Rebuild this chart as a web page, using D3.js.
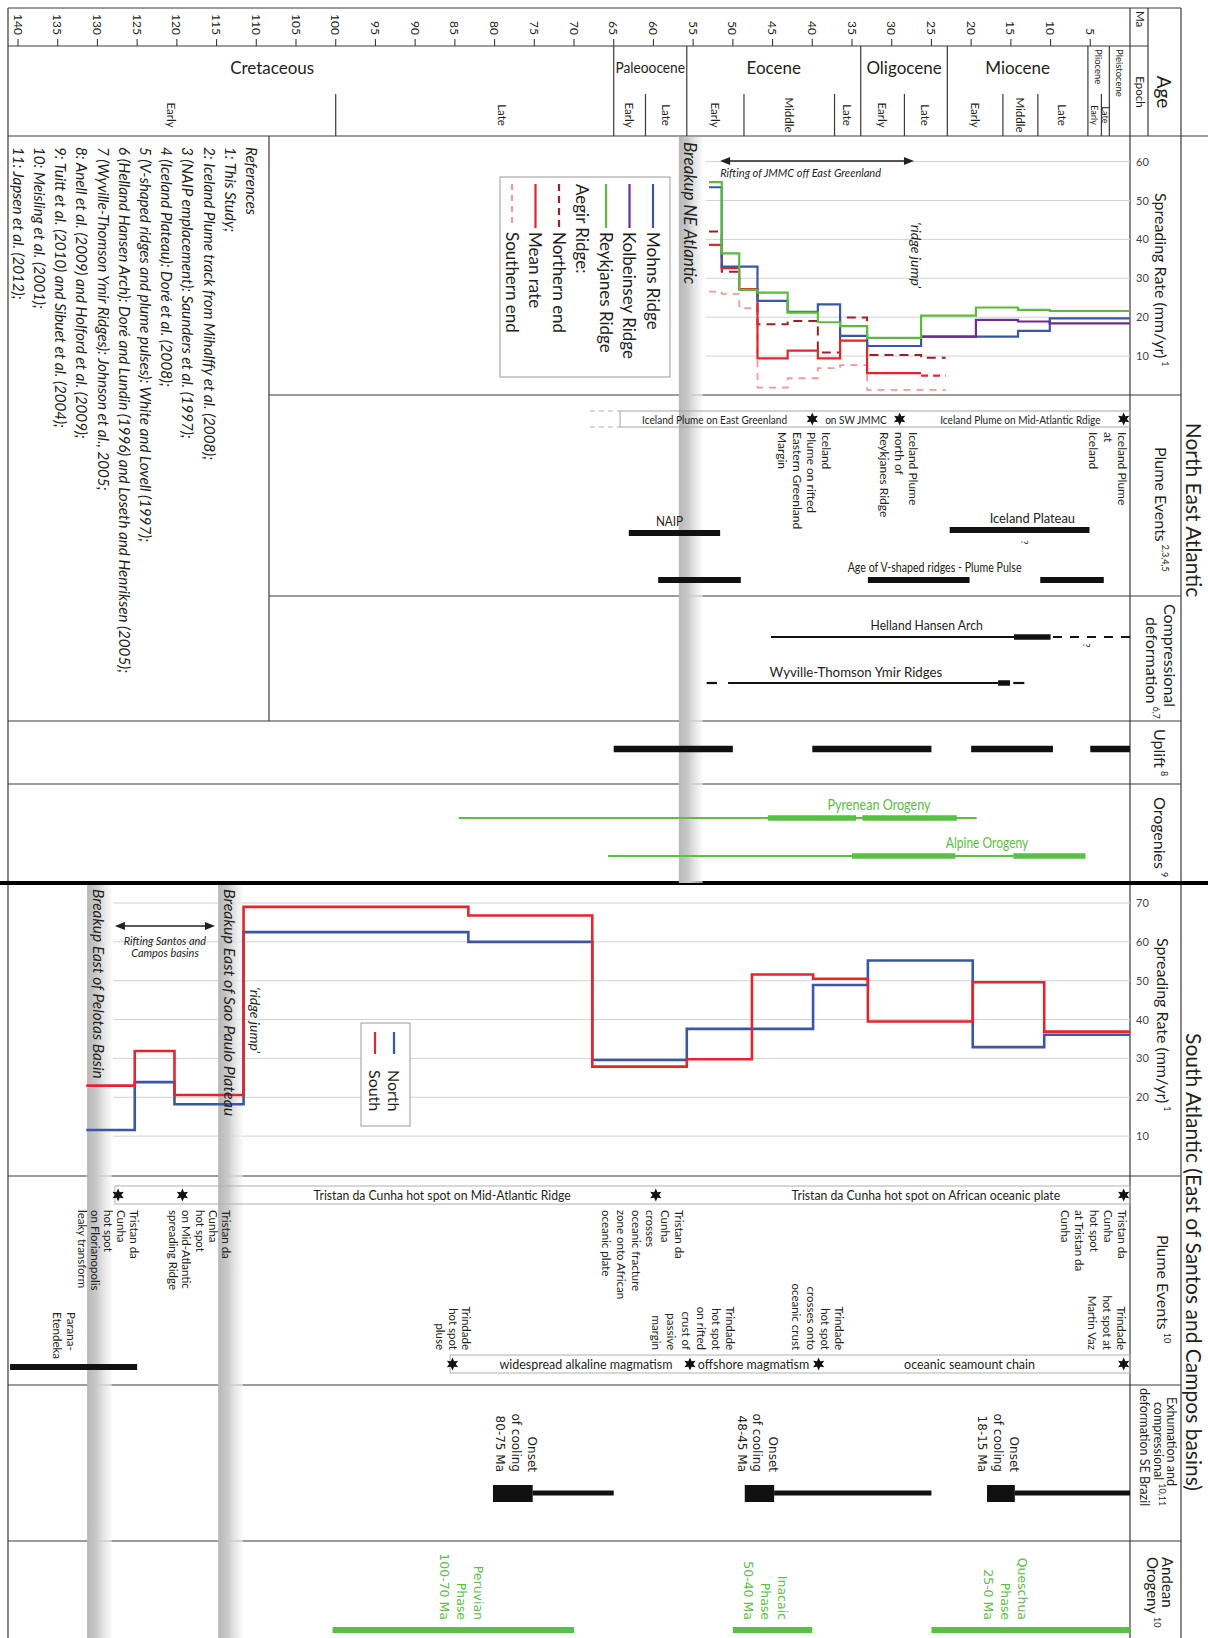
<!DOCTYPE html>
<html>
<head>
<meta charset="utf-8">
<title>Spreading rates and plume events, NE and South Atlantic</title>
<script src="https://cdn.jsdelivr.net/npm/d3@7"></script>
<style>
  body { margin: 0; background: #fff; }
  svg { display: block; }
  text { font-family: Lato, "Noto Sans", sans-serif; fill: #231f20; }
  .dv { font-family: "DejaVu Sans", sans-serif; }
</style>
</head>
<body>
<svg id="chart" width="1208" height="1638"></svg>
<script>
// ---------- data (ages in Ma) ----------
var maTicks = d3.range(5, 141, 5);
var epochNames = ["Cretaceous", "Paleoocene", "Eocene", "Oligocene", "Miocene", "Pliocene", "Pleistocene"];
var epochBounds = [145, 65, 55.8, 33.9, 23, 5.3, 2.6, 0];
var subEpochs = [["Early", 145, 100], ["Late", 100, 65], ["Early", 65, 61], ["Late", 61, 55.8],
  ["Early", 55.8, 48.6], ["Middle", 48.6, 37.2], ["Late", 37.2, 33.9], ["Early", 33.9, 28.4],
  ["Late", 28.4, 23], ["Early", 23, 16], ["Middle", 16, 11.6], ["Late", 11.6, 5.3],
  ["Early", 5.3, 3.6], ["Late", 3.6, 2.6]];

// NE Atlantic spreading rate (mm/yr), one value per interval between breaks
var neBreaks   = [53, 51.4, 49.2, 46.9, 43.1, 39.3, 36.5, 33.1, 26.3, 23.2, 19.4, 14.1, 10.1, 0];
var mohns      = [53.4, 33, 33, 24.2, 21.4, 23.3, 15.2, 12.6, 15, 15, 15, 16.5, 19.7];
var kolbeinsey = [null, null, null, null, null, null, null, null, 15, 15, 19.3, 18.9, 18.4];
var reykjanes  = [54.7, 36.4, 27, 26.3, 21.2, 18.7, 17.7, 14.7, 20.4, 20.4, 22.5, 21.9, 21.6];
var aegirMean  = [38.6, 32.6, 27.2, 9.4, 11.4, 9.4, 14, 5.6, 5];
var aegirNorth = [42, 31.7, 27.2, 18.2, 19, 10.9, 19.9, 10.3, 9.6];
var aegirSouth = [26.6, 26, 22.3, 1.9, 4.3, 6.9, 7.7, 1.3, 1.3];

// South Atlantic spreading rate (mm/yr)
var saBreaks = [131.4, 125.3, 120.3, 111.6, 83.3, 67.7, 55.8, 47.6, 39.9, 33, 19.8, 10.8, 0];
var saNorth  = [11.6, 23.9, 18.2, 62.5, 60, 29.6, 37.6, 37.6, 48.9, 55.2, 32.9, 36.1];
var saSouth  = [23, 31.9, 20.6, 69, 66.8, 27.9, 29.8, 51.6, 50.5, 39.5, 49.6, 36.9];

// NE Atlantic events
var neBreakup = [56.8, 53.8];
var nePlumeSpan = [64.2, 0];
var nePlumeUncertain = [68, 64.2];
var nePlumeStars = [40, 29, 0.8];
var nePlumePhases = ["Iceland Plume on East Greenland", "on SW JMMC", "Iceland Plume on Mid-Atlantic Rdige"];
var nePlumeNotes = [["Iceland", "Plume on rifted", "Eastern Greenland", "Margin"],
  ["Iceland Plume", "north of", "Reykjanes Ridge"], ["Iceland Plume", "at", "Iceland"]];
var naip = [63.1, 51.6];
var icelandPlateau = [22.7, 5.1];
var vShapedRidges = [[59.4, 49], [33, 20.2], [11.3, 3.3]];
var hellandHansen = {thin: [45.2, 14.6], thick: [14.6, 10], dashed: [9.7, 0]};
var wyvilleThomson = {dashed: [53.3, 52], thin: [50.6, 16.6], thick: [16.6, 15.1], dashed2: [14.7, 13.3]};
var uplift = [[65, 50], [40, 25], [20, 9.7], [5, 0]];
var pyrenean = {thin: [84.5, 19.3], thick: [[45.6, 34.5], [33.7, 21.8]]};
var alpine = {thin: [65.7, 14.7], thick: [[35, 22], [14.7, 5.6]]};
var rifting = [51.6, 27.2];

// South Atlantic events
var pelotasBand = [131.3, 128.2];
var saoPauloBand = [114.8, 111.7];
var santosRifting = [127.8, 115.2];
var tristanSpan = [127.8, 0];
var tristanStars = [127.4, 119.3, 59.7, 0.8];
var tristanPhases = ["Tristan da Cunha hot spot on Mid-Atlantic Ridge", "Tristan da Cunha hot spot on African oceanic plate"];
var tristanNotes = [["Tristan da", "Cunha", "hot spot", "on Florianopolis", "leaky transform"],
  ["Tristan da", "Cunha", "hot spot", "on Mid-Atlantic", "spreading Ridge"],
  ["Tristan da", "Cunha", "crosses", "oceanic fracture", "zone onto African", "oceanic plate"],
  ["Tristan da", "Cunha", "hot spot", "at Tristan da", "Cunha"]];
var trindadeSpan = [85.6, 0];
var trindadeStars = [85.3, 55.4, 39.2, 0.8];
var trindadePhases = ["widespread alkaline magmatism", "offshore magmatism", "oceanic seamount chain"];
var trindadeNotes = [["Trindade", "hot spot", "pluse"],
  ["Trindade", "hot spot", "on rifted", "crust of", "passive", "margin"],
  ["Trindade", "hot spot", "crosses onto", "oceanic crust"],
  ["Trindade", "hot spot at", "Martin Vaz"]];
var paranaEtendeka = [141, 125];
var coolingOnset = [[80.2, 75.2], [48.5, 44.8], [18, 14.5]];
var coolingEnd = [65, 25, 0];
var coolingNotes = [["Onset", "of cooling", "80-75 Ma"], ["Onset", "of cooling", "48-45 Ma"], ["Onset", "of cooling", "18-15 Ma"]];
var andeanPhases = [[100.4, 70], [50, 40], [25, 0]];
var andeanNotes = [["Peruvian", "Phase", "100-70 Ma"], ["Inacaic", "Phase", "50-40 Ma"], ["Queschua", "Phase", "25-0 Ma"]];

var references = ["References", "1: This Study;",
  "2: Iceland Plume track from Mihalffy et al. (2008);",
  "3 (NAIP emplacement): Saunders et al. (1997);",
  "4 (Iceland Plateau): Doré et al. (2008);",
  "5 (V-shaped ridges and plume pulses): White and Lovell (1997);",
  "6 (Helland Hansen Arch): Doré and Lundin (1996) and Loseth and Henriksen (2005);",
  "7 (Wyville-Thomson Ymir Ridges): Johnson et al., 2005;",
  "8: Anell et al. (2009) and Holford et al. (2009);",
  "9: Tuitt et al. (2010) and Sibuet et al. (2004);",
  "10: Meisling et al. (2001);",
  "11: Japsen et al. (2012);"];

// ---------- setup ----------
var W = 1208, H = 1638;
var XL = 8, XR = 1130, XC = 1181, XREF = 269;
var GREEN = "#58c042", BLUE = "#3a56a6", RED = "#e4262c", PURPLE = "#6b2d8f", RGREEN = "#5cbb3c",
    DRED = "#9e1f2a", PINK = "#f09a9a";

var svg = d3.select("#chart");
var x = d3.scaleLinear().domain([140, 0]).range([18, XR]);
var yNE = d3.scaleLinear().domain([0, 60]).range([395, 161.6]);
var ySA = d3.scaleLinear().domain([0, 70]).range([1175, 903]);
function cx(ma) { return Math.max(XL, Math.min(XR, x(ma))); }

var defs = svg.append("defs");
var grad = defs.append("linearGradient").attr("id", "band");
grad.append("stop").attr("offset", "0%").attr("stop-color", "#b7b7b7");
grad.append("stop").attr("offset", "40%").attr("stop-color", "#cbcbcb");
grad.append("stop").attr("offset", "100%").attr("stop-color", "#f7f7f7").attr("stop-opacity", 0.6);

var gFrame = svg.append("g"), gGrid = svg.append("g"), gBand = svg.append("g"), g = svg.append("g");

function hline(p, y, x1, x2, w, col, dash) {
  return p.append("line").attr("x1", x1).attr("x2", x2).attr("y1", y).attr("y2", y)
    .attr("stroke", col || "#3a3a3a").attr("stroke-width", w || 1.2).attr("stroke-dasharray", dash || null);
}
function vline(p, xx, y1, y2, w, col) {
  return p.append("line").attr("x1", xx).attr("x2", xx).attr("y1", y1).attr("y2", y2)
    .attr("stroke", col || "#3a3a3a").attr("stroke-width", w || 1.2);
}
function bar(p, span, y, thick, col) {
  return p.append("line").attr("x1", cx(span[0])).attr("x2", cx(span[1])).attr("y1", y).attr("y2", y)
    .attr("stroke", col || "#111").attr("stroke-width", thick);
}
// rotated text reading top to bottom, centred on column xx
function vtext(p, xx, y, s, o) {
  o = o || {};
  var t = p.append("text").attr("transform", "translate(" + xx + "," + y + ") rotate(90)")
    .attr("dominant-baseline", "central").attr("text-anchor", o.anchor || "start")
    .style("font-size", (o.size || 12) + "px").text(s);
  if (o.cls) t.attr("class", o.cls);
  if (o.fill) t.style("fill", o.fill);
  if (o.italic) t.style("font-style", "italic");
  if (o.sup) t.append("tspan").attr("dy", "-0.55em").attr("dx", "3").style("font-size", "9px").text(o.sup);
  return t;
}
// horizontal text; sx < 1 squeezes it like a condensed face
function htext(p, xx, y, s, o) {
  o = o || {};
  var t = p.append("text").attr("transform", "translate(" + xx + "," + y + ") scale(" + (o.sx || 1) + ",1)")
    .attr("text-anchor", o.anchor || "middle")
    .style("font-size", (o.size || 12) + "px").text(s);
  if (o.cls) t.attr("class", o.cls);
  if (o.fill) t.style("fill", o.fill);
  if (o.italic) t.style("font-style", "italic");
  return t;
}
function noteLines(p, x0, y0, lines, step, o) {
  lines.forEach(function(s, i) { vtext(p, x0 - i * step, y0, s, o); });
}
function starPath(sx, sy, r) {
  var pts = d3.range(12).map(function(i) {
    var a = Math.PI / 6 * i - Math.PI / 2, rr = i % 2 ? r * 0.5 : r;
    return [sx + rr * Math.cos(a), sy + rr * Math.sin(a)];
  });
  return "M" + pts.join("L") + "Z";
}
function stars(p, list, y) {
  list.forEach(function(m) { p.append("path").attr("d", starPath(x(m), y, 6.5)).attr("fill", "#111"); });
}
function stepPath(breaks, vals, yScale, from, to) {
  var d = "", prev = null;
  for (var i = from; i < to; i++) {
    var v = vals[i];
    if (v == null) { prev = null; continue; }
    d += (prev == null ? "M" + x(breaks[i]) : "L" + x(breaks[i])) + "," + yScale(v);
    d += "L" + x(breaks[i + 1]) + "," + yScale(v);
    prev = v;
  }
  return d;
}
function series(p, breaks, vals, yScale, col, w, dash, from, to) {
  p.append("path").attr("d", stepPath(breaks, vals, yScale, from || 0, to || vals.length))
    .attr("fill", "none").attr("stroke", col).attr("stroke-width", w)
    .attr("stroke-dasharray", dash || null).attr("stroke-linejoin", "miter");
}
function arrow(p, x1, x2, y) {
  hline(p, y, x1 + 4, x2 - 4, 1.3, "#222");
  p.append("path").attr("d", "M" + x1 + "," + y + "l10,-4l0,8z").attr("fill", "#222");
  p.append("path").attr("d", "M" + x2 + "," + y + "l-10,-4l0,8z").attr("fill", "#222");
}

// ---------- frame ----------
hline(gFrame, 8, XL, XC);
vline(gFrame, XL, 8, H);
vline(gFrame, XC, 8, H);
vline(gFrame, XR, 8, H);
vline(gFrame, 1148, 8, 136);
hline(gFrame, 46, XL, 1148);
hline(gFrame, 136, XL, W);
vline(gFrame, XREF, 136, 721);
[395, 596].forEach(function(y) { hline(gFrame, y, XREF, XC); });
[721, 784, 1176, 1385, 1541].forEach(function(y) { hline(gFrame, y, XL, XC); });
hline(gFrame, 883, 0, W, 4, "#000");

// Ma ticks
maTicks.forEach(function(m) {
  vline(gFrame, x(m), 39, 46, 1.1);
  vtext(g, x(m), 35, m, {anchor: "end", size: 12});
});
vtext(g, 1140, 19, "Ma", {anchor: "middle", size: 11.5});
vtext(g, 1140, 92, "Epoch", {anchor: "middle", size: 11.5});
vtext(g, 1164, 92, "Age", {anchor: "middle", size: 19});

// epochs (two labels sit off-centre in the original)
var labelAt = {"Cretaceous": 108, "Late100": 79};
epochBounds.slice(1, 7).forEach(function(b) { vline(gFrame, x(b), 46, 136); });
subEpochs.forEach(function(s) {
  if (epochBounds.indexOf(s[1]) < 0) vline(gFrame, x(s[1]), 94, 136);
  var key = s[0] + s[1];
  var mid = labelAt[key] != null ? x(labelAt[key]) : (cx(s[1]) + cx(s[2])) / 2;
  vtext(g, mid, 115, s[0], {anchor: "middle", size: s[1] <= 5.3 ? 9 : 11.5});
});
epochNames.forEach(function(n, i) {
  var mid = labelAt[n] != null ? x(labelAt[n]) : (cx(epochBounds[i]) + cx(epochBounds[i + 1])) / 2;
  if (i === 1) htext(g, mid, 73, n, {size: 16, sx: 0.86});
  else if (i < 5) htext(g, mid, 74, n, {size: 17});
  else vtext(g, mid, 49, n, {size: 9.5});
});

// ---------- NE Atlantic: spreading rate ----------
yNE.ticks(6).filter(function(t) { return t > 0; }).forEach(function(t) {
  hline(gGrid, yNE(t), x(53.4), XR, 1, "#d2d2d2");
});
gGrid.append("g").attr("transform", "translate(" + XR + ",0)")
  .call(d3.axisRight(yNE).tickValues([10, 20, 30, 40, 50, 60]).tickSize(0).tickPadding(6))
  .call(function(a) { a.select(".domain").remove(); a.selectAll("text").style("font-size", "11px").style("fill", "#444").style("font-family", "Lato, sans-serif"); });

gBand.append("rect").attr("x", x(neBreakup[0])).attr("y", 137).attr("width", x(neBreakup[1]) - x(neBreakup[0]))
  .attr("height", 883 - 137).attr("fill", "url(#band)");

series(g, neBreaks, aegirSouth, yNE, PINK, 1.8, "7,6");
series(g, neBreaks, aegirNorth, yNE, DRED, 2, "9,6");
series(g, neBreaks, aegirMean, yNE, RED, 2.2, null, 0, 8);
series(g, neBreaks, aegirMean, yNE, RED, 2.2, "7,5", 8, 9);
series(g, neBreaks, mohns, yNE, BLUE, 2.2);
series(g, neBreaks, kolbeinsey, yNE, PURPLE, 2.2);
series(g, neBreaks, reykjanes, yNE, RGREEN, 2.2);

arrow(g, x(rifting[0]), x(rifting[1]), 161);
htext(g, x(rifting[0]), 177, "Rifting of JMMC off East Greenland", {anchor: "start", size: 12, italic: true, sx: 0.92});
vtext(g, 916, 222, "\u2018ridge jump\u2019", {size: 14, italic: true});
vtext(g, x((neBreakup[0] + neBreakup[1]) / 2), 142, "Breakup  NE Atlantic", {size: 17, italic: true});

// legend
var legNE = [
  {label: "Mohns Ridge", col: BLUE}, {label: "Kolbeinsey Ridge", col: PURPLE},
  {label: "Reykjanes Ridge", col: RGREEN}, {label: "Aegir Ridge:", col: null},
  {label: "Northern end", col: DRED, dash: "7,5"}, {label: "Mean rate", col: RED},
  {label: "Southern end", col: PINK, dash: "6,5"}];
g.append("rect").attr("x", 500).attr("y", 177).attr("width", 170).attr("height", 200)
  .attr("fill", "#fff").attr("stroke", "#9a9a9a").attr("stroke-width", 1);
legNE.forEach(function(e, i) {
  var lx = 653 - i * 23.5;
  if (e.col) {
    vline(g, lx, 184, 228, 2.2, e.col).attr("stroke-dasharray", e.dash || null);
    vtext(g, lx, 232, e.label, {size: 17});
  } else vtext(g, lx, 184, e.label, {size: 17});
});

// references
references.forEach(function(r, i) { vtext(g, 252 - i * 21.2, 147, r, {size: 15.2, italic: true}); });

// ---------- NE plume events ----------
var pb = g.append("g");
pb.append("rect").attr("x", x(nePlumeSpan[0])).attr("y", 411).attr("width", x(nePlumeSpan[1]) - x(nePlumeSpan[0]))
  .attr("height", 16).attr("fill", "none").attr("stroke", "#a5a5a5").attr("stroke-width", 1);
hline(pb, 411, x(nePlumeUncertain[0]), x(nePlumeUncertain[1]), 1, "#b0b0b0", "5,4");
hline(pb, 427, x(nePlumeUncertain[0]), x(nePlumeUncertain[1]), 1, "#b0b0b0", "5,4");
stars(pb, nePlumeStars, 419);
[52.3, 34.5, 13.8].forEach(function(m, i) { htext(pb, x(m), 423.5, nePlumePhases[i], {size: 12, sx: 0.84}); });
noteLines(g, x(nePlumeStars[0]) + 14, 432, nePlumeNotes[0], 14.5, {size: 12});
noteLines(g, x(nePlumeStars[1]) + 14, 432, nePlumeNotes[1], 14.5, {size: 12});
noteLines(g, x(nePlumeStars[2]) - 1, 432, nePlumeNotes[2], 14.5, {size: 12});

bar(g, naip, 533, 6);
htext(g, (x(naip[0]) + x(naip[1])) / 2 - 5, 526, "NAIP", {size: 13, sx: 0.9});
bar(g, icelandPlateau, 530, 6);
htext(g, x(12.3), 523, "Iceland Plateau", {size: 14, sx: 0.92});
vtext(g, 1025, 540, "?", {size: 10});
vShapedRidges.forEach(function(s) { bar(g, s, 580, 6); });
htext(g, x(24.6), 572, "Age of V-shaped ridges - Plume Pulse", {size: 14, sx: 0.76});

// compressional deformation
bar(g, hellandHansen.thin, 637, 2.2);
bar(g, hellandHansen.thick, 637, 5.5);
bar(g, hellandHansen.dashed, 637, 2.2).attr("stroke-dasharray", "9,8");
htext(g, x(25.6), 630, "Helland Hansen Arch", {size: 14, sx: 0.87});
vtext(g, 1087, 643, "?", {size: 10});
bar(g, wyvilleThomson.dashed, 683, 2.2);
bar(g, wyvilleThomson.thin, 683, 2.2);
bar(g, wyvilleThomson.thick, 683, 5.5);
bar(g, wyvilleThomson.dashed2, 683, 2.2);
htext(g, x(34.5), 677, "Wyville-Thomson Ymir Ridges", {size: 14, sx: 0.95});

// uplift
uplift.forEach(function(s) { bar(g, s, 749, 6.5); });

// orogenies
bar(g, pyrenean.thin, 818, 1.8, GREEN);
pyrenean.thick.forEach(function(s) { bar(g, s, 818, 5.5, GREEN); });
htext(g, x(31.6), 810, "Pyrenean  Orogeny", {size: 14.5, fill: GREEN, sx: 0.87});
bar(g, alpine.thin, 856, 1.8, GREEN);
alpine.thick.forEach(function(s) { bar(g, s, 856, 5.5, GREEN); });
htext(g, x(18), 848, "Alpine Orogeny", {size: 14.5, fill: GREEN, sx: 0.83});

// ---------- South Atlantic: spreading rate ----------
ySA.ticks(7).filter(function(t) { return t > 0; }).forEach(function(t) {
  hline(gGrid, ySA(t), x(128), XR, 1, "#d2d2d2");
});
gGrid.append("g").attr("transform", "translate(" + XR + ",0)")
  .call(d3.axisRight(ySA).tickValues([10, 20, 30, 40, 50, 60, 70]).tickSize(0).tickPadding(6))
  .call(function(a) { a.select(".domain").remove(); a.selectAll("text").style("font-size", "11px").style("fill", "#444").style("font-family", "Lato, sans-serif"); });

[pelotasBand, saoPauloBand].forEach(function(b) {
  gBand.append("rect").attr("x", x(b[0])).attr("y", 885).attr("width", x(b[1]) - x(b[0]))
    .attr("height", H - 885).attr("fill", "url(#band)");
});

series(g, saBreaks, saNorth, ySA, BLUE, 2.6);
series(g, saBreaks, saSouth, ySA, RED, 2.6);

vtext(g, x((pelotasBand[0] + pelotasBand[1]) / 2), 889, "Breakup East of Pelotas Basin", {size: 15.5, italic: true});
vtext(g, x((saoPauloBand[0] + saoPauloBand[1]) / 2), 889, "Breakup East of Sao Paulo Plateau", {size: 16, italic: true});
arrow(g, x(santosRifting[0]), x(santosRifting[1]), 926);
var rx = (x(santosRifting[0]) + x(santosRifting[1])) / 2;
htext(g, rx, 945, "Rifting Santos and", {size: 11.5, italic: true, sx: 0.95});
htext(g, rx, 957, "Campos basins", {size: 11.5, italic: true, sx: 0.95});
vtext(g, 255, 987, "\u2018ridge jump\u2019", {size: 14, italic: true});

g.append("rect").attr("x", 361).attr("y", 1023).attr("width", 49).attr("height", 103)
  .attr("fill", "#fff").attr("stroke", "#9a9a9a").attr("stroke-width", 1);
vline(g, 394, 1032, 1054, 2.2, BLUE);
vtext(g, 394, 1070, "North", {size: 16});
vline(g, 375, 1032, 1054, 2.2, RED);
vtext(g, 375, 1070, "South", {size: 16});

// ---------- South Atlantic plume events ----------
g.append("rect").attr("x", x(tristanSpan[0])).attr("y", 1186).attr("width", x(tristanSpan[1]) - x(tristanSpan[0]))
  .attr("height", 18).attr("fill", "none").attr("stroke", "#b0b0b0").attr("stroke-width", 1);
stars(g, tristanStars, 1195);
htext(g, x(86.6), 1199.5, tristanPhases[0], {size: 13, sx: 0.94});
htext(g, x(25.7), 1199.5, tristanPhases[1], {size: 13, sx: 0.94});
noteLines(g, x(tristanStars[0]) + 16, 1210, tristanNotes[0], 12.8, {size: 11.5});
noteLines(g, x(tristanStars[1]) + 44, 1210, tristanNotes[1], 13.2, {size: 11.5});
noteLines(g, x(tristanStars[2]) + 24, 1210, tristanNotes[2], 14.6, {size: 11.5});
noteLines(g, x(tristanStars[3]) - 1, 1210, tristanNotes[3], 14.3, {size: 11.5});

g.append("rect").attr("x", x(trindadeSpan[0])).attr("y", 1355).attr("width", x(trindadeSpan[1]) - x(trindadeSpan[0]))
  .attr("height", 18).attr("fill", "none").attr("stroke", "#b0b0b0").attr("stroke-width", 1);
stars(g, trindadeStars, 1364);
htext(g, x(68.5), 1368.5, trindadePhases[0], {size: 13, sx: 0.96});
htext(g, x(47.4), 1368.5, trindadePhases[1], {size: 13, sx: 0.96});
htext(g, x(20.2), 1368.5, trindadePhases[2], {size: 13, sx: 0.96});
noteLines(g, x(trindadeStars[0]) + 14, 1350, trindadeNotes[0], 13, {size: 11.5, anchor: "end"});
noteLines(g, x(trindadeStars[1]) + 41, 1350, trindadeNotes[1], 14.8, {size: 11.5, anchor: "end"});
noteLines(g, x(trindadeStars[2]) + 21, 1350, trindadeNotes[2], 14.3, {size: 11.5, anchor: "end"});
noteLines(g, x(trindadeStars[3]) - 2, 1350, trindadeNotes[3], 14.5, {size: 11.5, anchor: "end"});

bar(g, paranaEtendeka, 1367, 6);
noteLines(g, x(133.3), 1312, ["Parana-", "Etendeka"], 14, {size: 11.5});

// ---------- exhumation ----------
coolingOnset.forEach(function(s, i) {
  bar(g, [s[1], coolingEnd[i]], 1493, 5);
  g.append("rect").attr("x", x(s[0])).attr("y", 1485).attr("width", x(s[1]) - x(s[0])).attr("height", 17).attr("fill", "#111");
  noteLines(g, x(s[1]) - 1, 1472, coolingNotes[i], 15.7, {size: 12, cls: "dv", anchor: "end"});
});

// ---------- Andean orogeny ----------
andeanPhases.forEach(function(s) { bar(g, s, 1630, 6, GREEN); });
[82, 43.7, 13.5].forEach(function(m, i) {
  noteLines(g, x(m), 1620, andeanNotes[i], 17, {size: 12.5, cls: "dv", anchor: "end", fill: GREEN});
});

// ---------- right-hand labels ----------
vtext(g, 1161, 193, "Spreading Rate (mm/yr)", {size: 16, sup: "1"});
vtext(g, 1161, 447, "Plume Events", {size: 16, sup: "2,3,4,5"});
vtext(g, 1170, 604, "Compressional", {size: 16});
vtext(g, 1152, 617, "deformation", {size: 16, sup: "6,7"});
vtext(g, 1160, 729, "Uplift", {size: 16, sup: "8"});
vtext(g, 1160, 797, "Orogenies", {size: 16, sup: "9"});
vtext(g, 1163, 938, "Spreading Rate (mm/yr)", {size: 16, sup: "1"});
vtext(g, 1163, 1235, "Plume Events", {size: 16, sup: "10"});
vtext(g, 1171, 1397, "Exhumation and", {size: 12.5});
vtext(g, 1158, 1402, "compressional", {size: 12.5, sup: "10,11"});
vtext(g, 1144, 1388, "deformation SE Brazil", {size: 12.5});
vtext(g, 1168, 1557, "Andean", {size: 15});
vtext(g, 1153, 1557, "Orogeny", {size: 15, sup: "10"});

vtext(g, 1194, 510, "North East Atlantic", {size: 21, anchor: "middle"});
vtext(g, 1194, 1262, "South Atlantic (East of Santos and Campos basins)", {size: 21, anchor: "middle"});
</script>
</body>
</html>
